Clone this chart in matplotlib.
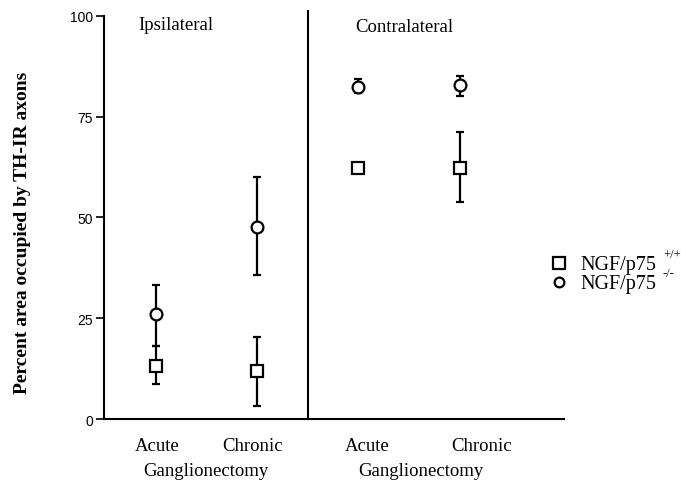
import matplotlib
matplotlib.use("Agg")
import matplotlib.pyplot as plt
from matplotlib.lines import Line2D

# Data
groups = ["Ipsilateral", "Contralateral"]
conditions = ["Acute", "Chronic"]
x_pos = [1, 2, 3, 4]  # Ipsi Acute, Ipsi Chronic, Contra Acute, Contra Chronic

wt_mean = [13.2, 12.0, 62.3, 62.3]
wt_err_hi = [4.8, 8.4, 0.0, 8.8]
wt_err_lo = [4.5, 8.8, 0.0, 8.4]

ko_mean = [26.0, 47.7, 82.5, 82.9]
ko_err_hi = [7.2, 12.3, 1.9, 2.3]
ko_err_lo = [7.9, 12.0, 1.7, 2.8]

yticks = [0, 25, 50, 75, 100]
legend_names = ["NGF/p75", "NGF/p75"]
legend_sups = ["+/+", "-/-"]
legend_markers = ["s", "o"]
ylabel = "Percent area occupied by TH-IR axons"
xgroup_label = "Ganglionectomy"

serif = "Liberation Serif"
sans = "Liberation Sans"

W, H = 681, 481
fig = plt.figure(figsize=(W / 100, H / 100), dpi=100)
ax = fig.add_axes([0.1527, 0.1268, 0.6755, 0.8379])

ax.set_xlim(0.487, 5.03)
ax.set_ylim(0, 100)

err_kw = dict(color="black", linestyle="none", elinewidth=1.6, capsize=3.2, capthick=1.6)
ax.errorbar(x_pos, ko_mean, yerr=[ko_err_lo, ko_err_hi], marker="o", markersize=8.5,
            markerfacecolor="white", markeredgecolor="black", markeredgewidth=1.6,
            zorder=3, **err_kw)
ax.errorbar(x_pos, wt_mean, yerr=[wt_err_lo, wt_err_hi], marker="s", markersize=8.5,
            markerfacecolor="white", markeredgecolor="black", markeredgewidth=1.6,
            zorder=3, **err_kw)

# Divider
ax.axvline(2.5, ymin=0, ymax=1.013, color="black", linewidth=1.5, clip_on=False)

for s in ["top", "right"]:
    ax.spines[s].set_visible(False)
ax.spines["left"].set_linewidth(1.5)
ax.spines["bottom"].set_linewidth(1.5)

ax.set_yticks(yticks)
ax.set_yticklabels([str(v) for v in yticks], fontfamily=sans, fontsize=10)
ax.tick_params(axis="y", direction="out", length=6, width=1.2, pad=2)
ax.set_xticks([])

ax.set_ylabel(ylabel, fontfamily=serif, fontweight="bold", fontsize=14)
ax.yaxis.set_label_coords(-0.177, 0.464)
ax.yaxis.label.set_va("center")

# Group titles
ax.text(1.2, 97.8, groups[0], fontfamily=serif, fontsize=13.5, ha="center", va="center")
ax.text(3.45, 97.3, groups[1], fontfamily=serif, fontsize=13.5, ha="center", va="center")

# Category labels
trans = ax.get_xaxis_transform()
cat_x = [1.01, 1.95, 3.09, 4.22]
for i, xc in enumerate(cat_x):
    ax.text(xc, -0.065, conditions[i % 2], transform=trans, fontfamily=serif,
            fontsize=13.5, ha="center", va="center")
for xc in [1.49, 3.62]:
    ax.text(xc, -0.128, xgroup_label, transform=trans, fontfamily=serif,
            fontsize=13.5, ha="center", va="center")

# Legend (drawn manually to control superscripts)
row_y = [264, 283]
for i in range(2):
    yc = row_y[i]
    fig.add_artist(Line2D([559 / W], [1 - yc / H], transform=fig.transFigure,
                          marker=legend_markers[i], linestyle="none",
                          markersize=8 if legend_markers[i] == "s" else 7,
                          markerfacecolor="white", markeredgecolor="black",
                          markeredgewidth=1.6))
    fig.text(580 / W, 1 - (yc + 6) / H, legend_names[i], fontfamily=serif,
             fontsize=14.5, ha="left", va="baseline")
    fig.text(663 / W, 1 - (yc - 6) / H, legend_sups[i], fontfamily=serif,
             fontsize=9, ha="left", va="baseline")

fig.savefig("out.png", dpi=100)
